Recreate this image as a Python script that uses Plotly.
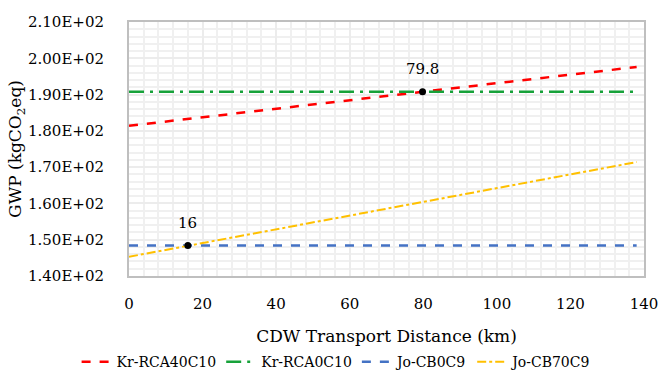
import plotly.graph_objects as go

# ---- data ----
x_vals = [0, 138]
kr_rca40c10 = [181.4, 197.6]
kr_rca0c10 = [190.8, 190.8]
jo_cb0c9 = [148.4, 148.4]
jo_cb70c9 = [145.3, 171.4]

cross_x = [16, 79.8]
cross_y = [148.4, 190.8]
cross_labels = ["16", "79.8"]

y_ticks = [140, 150, 160, 170, 180, 190, 200, 210]
y_ticktext = [f"{v:.2E}" for v in y_ticks]
x_ticks = [0, 20, 40, 60, 80, 100, 120, 140]

FONT = "DejaVu Serif"

fig = go.Figure()
fig.add_trace(go.Scatter(x=x_vals, y=kr_rca40c10, mode="lines", name="Kr-RCA40C10",
                         line=dict(color="#FF0000", width=2.5, dash="dash")))
fig.add_trace(go.Scatter(x=x_vals, y=kr_rca0c10, mode="lines", name="Kr-RCA0C10",
                         line=dict(color="#17A23A", width=2.5, dash="longdashdot")))
fig.add_trace(go.Scatter(x=x_vals, y=jo_cb0c9, mode="lines", name="Jo-CB0C9",
                         line=dict(color="#4472C4", width=2.5, dash="dash")))
fig.add_trace(go.Scatter(x=x_vals, y=jo_cb70c9, mode="lines", name="Jo-CB70C9",
                         line=dict(color="#FFC000", width=2, dash="dashdot")))
fig.add_trace(go.Scatter(x=cross_x, y=cross_y, mode="markers", showlegend=False,
                         marker=dict(color="#000000", size=7)))

for cx, cy, lab in zip(cross_x, cross_y, cross_labels):
    fig.add_annotation(x=cx, y=cy, text=lab, showarrow=False, yshift=23,
                       font=dict(family=FONT, size=15, color="#000000"))

fig.update_layout(
    width=660, height=374,
    margin=dict(l=129, r=16, t=22, b=98),
    paper_bgcolor="white", plot_bgcolor="white",
    font=dict(family=FONT, size=15, color="#000000"),
    legend=dict(orientation="h", xref="container", yref="container",
                x=0.51, xanchor="center", y=0.032, yanchor="middle",
                font=dict(family=FONT, size=14), itemwidth=30, tracegroupgap=0),
    xaxis=dict(range=[0, 140], tickvals=x_ticks, showgrid=True, gridcolor="#ececec", gridwidth=1.5,
               minor=dict(dtick=4, showgrid=True, gridcolor="#f0f0f0", gridwidth=1.5),
               showline=True, linecolor="#bfbfbf", linewidth=2, mirror=True,
               zeroline=False, ticks="", ticklabelstandoff=13, automargin=False,
               ticklabeloverflow="allow", tickfont=dict(size=15),
               title=dict(text="CDW Transport Distance (km)", font=dict(size=17), standoff=32)),
    yaxis=dict(range=[140, 210], tickvals=y_ticks, ticktext=y_ticktext,
               showgrid=True, gridcolor="#ececec", gridwidth=1.5,
               minor=dict(dtick=2, showgrid=True, gridcolor="#f0f0f0", gridwidth=1.5),
               showline=True, linecolor="#bfbfbf", linewidth=2, mirror=True,
               zeroline=False, ticks="", ticklabelstandoff=20, automargin=False,
               ticklabeloverflow="allow", tickfont=dict(size=15),
               title=dict(text="GWP (kgCO<sub>2</sub>eq)", font=dict(size=17), standoff=2)),
)

# remove the browser's default page margin so the 660x374 figure fills the window
fig.write_html("out.html", config={"displayModeBar": False},
               post_script="document.body.style.margin='0';document.body.style.overflow='hidden';")
